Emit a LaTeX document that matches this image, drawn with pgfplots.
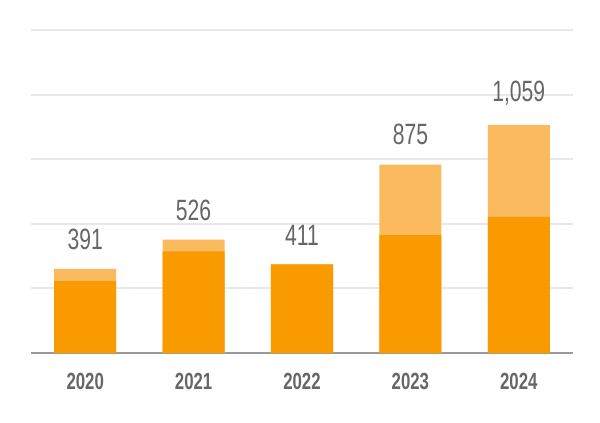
\documentclass[border=0pt]{standalone}
\usepackage{fontspec}
\setmainfont{Liberation Sans}
\newfontfamily\narrowfont[FakeStretch=0.72]{Liberation Sans}
\usepackage{pgfplots}
\pgfplotsset{compat=1.18}
\definecolor{darkor}{HTML}{F99A00}
\definecolor{lightor}{HTML}{FBBA5E}
\definecolor{labgray}{HTML}{666666}
\definecolor{gridgray}{HTML}{E8E8E8}
\definecolor{basegray}{HTML}{9A9A9A}

\begin{document}
\begin{tikzpicture}
\useasboundingbox (-23.25pt,-51.75pt) rectangle (426.75pt,264.75pt);
\begin{axis}[
  at={(0,0)}, anchor=south west,
  scale only axis,
  width=406.5pt, height=242.25pt,
  ybar, bar shift=0pt,
  bar width=0.572,
  xmin=-0.5, xmax=4.5,
  ymin=0, ymax=1500,
  xtick={0,1,2,3,4},
  xticklabels={2020,2021,2022,2023,2024},
  ytick={300,600,900,1200,1500},
  yticklabels={},
  major tick length=0pt,
  ymajorgrids,
  grid style={gridgray, line width=1.4pt},
  axis x line=bottom,
  axis y line=left,
  y axis line style={draw=none},
  x axis line style={-, basegray, line width=1.5pt},
  xticklabel style={font=\narrowfont\bfseries\fontsize{17.5}{19}\selectfont, text=labgray, yshift=-11.5pt},
  clip=false,
]
% totals (light) with value labels
\addplot[fill=lightor, draw=none,
  nodes near coords,
  every node near coord/.append style={/pgf/number format/1000 sep={,},
    /pgf/number format/assume math mode=true,
    font=\narrowfont\fontsize{22}{24}\selectfont, text=labgray, anchor=south, yshift=11pt}]
  coordinates {(0,391) (1,526) (2,411) (3,875) (4,1059)};
% lower part (dark)
\addplot[fill=darkor, draw=none] coordinates {(0,334) (1,472) (2,411) (3,547) (4,632)};
\end{axis}
\end{tikzpicture}
\end{document}
